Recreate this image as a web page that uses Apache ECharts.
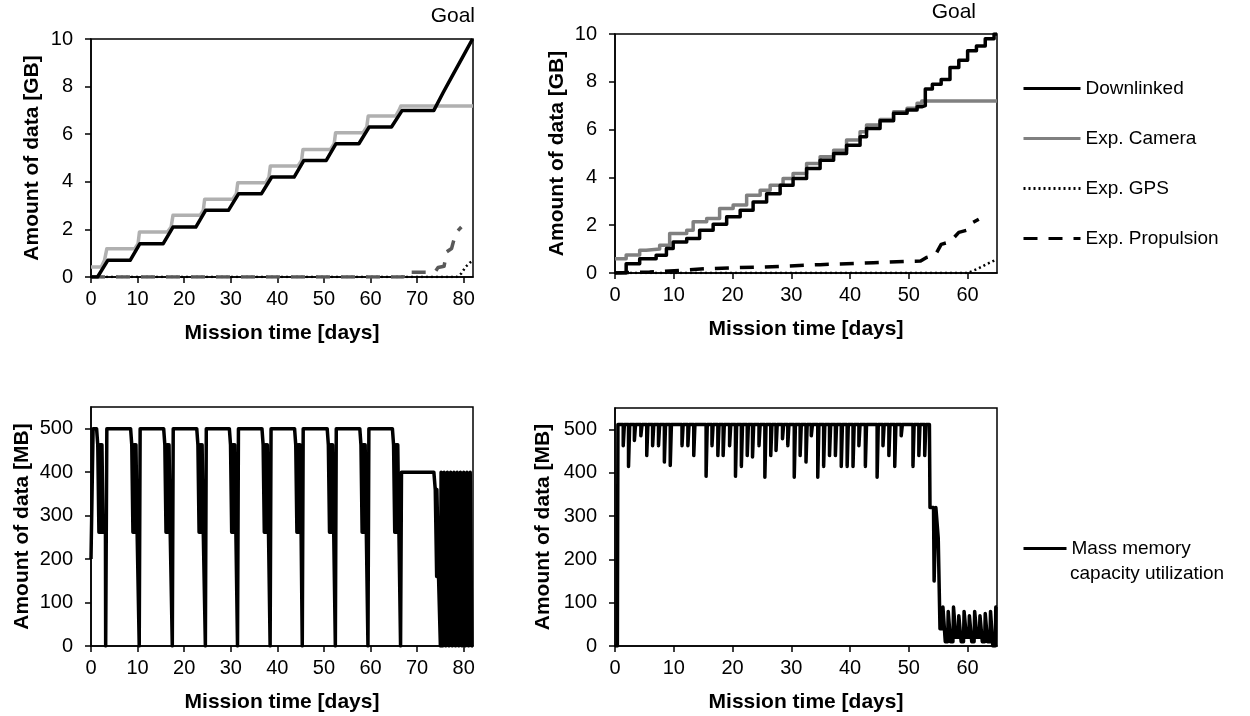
<!DOCTYPE html>
<html><head><meta charset="utf-8">
<script src="https://cdn.jsdelivr.net/npm/echarts@6/dist/echarts.min.js"></script>
<style>html,body{margin:0;padding:0;background:#fff}#c{width:1250px;height:716px}</style>
</head><body><div id="c"></div>
<script>
// ---------- labels & ticks ----------
const topLegendNames = ['Downlinked', 'Exp. Camera', 'Exp. GPS', 'Exp. Propulsion'];
const memName = 'Mass memory capacity utilization';
const memLine1 = 'Mass memory';
const memLine2 = 'capacity utilization';
const xTitle = 'Mission time [days]';
const yTitleGB = 'Amount of data [GB]';
const yTitleMB = 'Amount of data [MB]';
const goalText = 'Goal';
const xTicksLeft = [0, 10, 20, 30, 40, 50, 60, 70, 80];
const xTicksRight = [0, 10, 20, 30, 40, 50, 60];
const yTicksGB = [0, 2, 4, 6, 8, 10];
const yTicksMB = [0, 100, 200, 300, 400, 500];
const xMaxLeft = 82, xMaxRight = 65, yMaxGB = 10, yMaxMB = 550;

// ---------- top-left (x: days, y: GB) ----------
const tlDown = [[0,0],[1.4,0],[3.6,0.7],[8.4,0.7],[10.5,1.4],[15.5,1.4],[17.6,2.1],[22.5,2.1],[24.6,2.8],[29.5,2.8],[31.7,3.5],[36.6,3.5],[38.8,4.2],[43.6,4.2],[45.7,4.9],[50.5,4.9],[52.6,5.6],[57.5,5.6],[59.7,6.3],[64.5,6.3],[66.8,7.0],[73.6,7.0],[75.6,7.75],[77.7,8.5],[79.8,9.25],[81.9,10.0]];
const tlCam = [[0,0.42],[2.2,0.42],[2.9,0.7],[3.3,0.7],[3.4,1.19],[9.4,1.19],[10.1,1.4],[10.3,1.4],[10.4,1.89],[16.4,1.89],[17.2,2.1],[17.5,2.1],[17.6,2.59],[23.4,2.59],[24.1,2.8],[24.3,2.8],[24.4,3.27],[30.4,3.27],[31.2,3.5],[31.4,3.5],[31.5,3.96],[37.5,3.96],[38.2,4.2],[38.4,4.2],[38.5,4.66],[44.4,4.66],[45.2,4.9],[45.4,4.9],[45.5,5.36],[51.4,5.36],[52.2,5.6],[52.4,5.6],[52.5,6.06],[58.4,6.06],[59.2,6.3],[59.4,6.3],[59.5,6.76],[65.4,6.76],[66.1,7.0],[66.4,7.0],[66.5,7.18],[82,7.18]];
const tlGps = [[0,0],[78.5,0],[79.5,0.15],[80.4,0.42],[81.3,0.6],[82,0.68]];
const tlProp = [[0,0],[67,0],[67.1,0.2],[73.8,0.2],[74.5,0.4],[75.8,0.45],[76.3,1.05],[77.4,1.2],[78.3,1.85],[79.5,2.1]];

// ---------- top-right ----------
const trDown = [[0,0],[1.9,0.39],[4.2,0.6],[7,0.74],[8.75,1.02],[9.9,1.3],[12.2,1.44],[14.4,1.79],[16.7,2.04],[19,2.35],[21.3,2.63],[23.5,2.97],[25.8,3.32],[28.1,3.67],[30.3,3.95],[32.6,4.37],[34.9,4.72],[37.2,5.0],[39.4,5.35],[41.7,5.7],[42.8,6.05],[45.1,6.37],[47.4,6.68],[49.7,6.82],[51.4,6.96],[52.3,7.0],[52.8,7.7],[54,7.9],[55.5,8.1],[57,8.6],[58.5,8.9],[60,9.3],[61.5,9.5],[63,9.8],[64.5,10],[65,10]];
const trCam = [[0,0.6],[1.9,0.75],[4.2,0.95],[5.3,1.0],[7.6,1.16],[9.3,1.65],[12.2,1.79],[13.3,2.14],[15.6,2.28],[17.8,2.7],[20.1,2.84],[22.4,3.25],[24.7,3.46],[26.4,3.67],[28.6,3.95],[30.3,4.16],[32.6,4.58],[34.9,4.86],[37.2,5.14],[39.4,5.56],[41.7,5.91],[42.8,6.19],[45.1,6.42],[47.4,6.75],[49.7,6.89],[51.4,7.1],[52.2,7.2],[65,7.2]];
const trGps = [[0,0],[60,0],[61.9,0.2],[63.4,0.39],[65,0.57]];
const trProp = [[0,0],[5.9,0.04],[11,0.11],[15.6,0.18],[20.1,0.22],[25.2,0.25],[29.2,0.29],[34.9,0.35],[39.4,0.39],[44,0.43],[49.7,0.49],[52,0.5],[53,0.65],[54.5,0.75],[55.5,1.2],[57,1.3],[58.5,1.7],[60,1.8],[60.8,2.1],[61.9,2.25]];

// ---------- bottom-left (MB) ----------
const blMem = [[0,200],[0.4,200],[0.45,500],[1.2,500],[1.45,463],[1.7,262],[1.75,463],[2.0,262],[2.05,463],[2.3,262],[2.35,463],[2.6,262],[3.1,262],[3.15,0],[3.35,0],[3.4,500],
[8.5,500],[8.75,463],[9.0,262],[9.05,463],[9.3,262],[9.35,463],[9.6,262],[9.65,463],[9.9,262],[10.3,262],[10.35,0],[10.5,0],[10.55,500],
[15.6,500],[15.85,463],[16.1,262],[16.15,463],[16.4,262],[16.45,463],[16.7,262],[16.75,463],[17.0,262],[17.4,262],[17.45,0],[17.6,0],[17.65,500],
[22.7,500],[22.95,463],[23.2,262],[23.25,463],[23.5,262],[23.55,463],[23.8,262],[23.85,463],[24.1,262],[24.5,262],[24.55,0],[24.7,0],[24.75,500],
[29.7,500],[29.95,463],[30.2,262],[30.25,463],[30.5,262],[30.55,463],[30.8,262],[30.85,463],[31.1,262],[31.4,262],[31.45,0],[31.6,0],[31.65,500],
[36.7,500],[36.95,463],[37.2,262],[37.25,463],[37.5,262],[37.55,463],[37.8,262],[37.85,463],[38.1,262],[38.4,262],[38.45,0],[38.6,0],[38.65,500],
[43.7,500],[43.95,463],[44.2,262],[44.25,463],[44.5,262],[44.55,463],[44.8,262],[44.85,463],[45.1,262],[45.3,262],[45.35,0],[45.5,0],[45.55,500],
[50.7,500],[50.95,463],[51.2,262],[51.25,463],[51.5,262],[51.55,463],[51.8,262],[51.85,463],[52.1,262],[52.4,262],[52.45,0],[52.6,0],[52.65,500],
[57.7,500],[57.95,463],[58.2,262],[58.25,463],[58.5,262],[58.55,463],[58.8,262],[58.85,463],[59.1,262],[59.4,262],[59.45,0],[59.6,0],[59.65,500],
[64.7,500],[64.95,463],[65.2,262],[65.25,463],[65.5,262],[65.55,463],[65.8,262],[65.85,463],[66.1,262],[66.4,262],[66.45,0],[66.6,0],[66.65,400],
[73.6,400],[73.9,360],[74.2,160],[74.25,360],[74.6,160],[74.9,160],[75.0,0],[75.15,400],[75.45,400],[75.5,0],[75.75,0],[75.8,400],[76.1,400],[76.15,0],[76.45,0],[76.5,400],[76.8,400],[76.85,0],[77.15,0],[77.2,400],[77.5,400],[77.55,0],[77.85,0],[77.9,400],[78.2,400],[78.25,0],[78.55,0],[78.6,400],[78.9,400],[78.95,0],[79.25,0],[79.3,400],[79.6,400],[79.65,0],[79.95,0],[80.0,400],[80.3,400],[80.35,0],[80.65,0],[80.7,400],[81.0,400],[81.05,0],[81.35,0],[81.4,400],[81.7,400],[81.75,0],[82,0]];

// ---------- bottom-right (MB) ----------
const brMem = [[0,0],[0.4,0],[0.5,512],
[1.4,512],[1.4,463],[1.6,463],[1.6,512],[2.3,512],[2.3,415],[2.5,415],[2.5,512],[3.3,512],[3.3,475],[3.5,475],[3.5,512],[4.4,512],[4.4,486],[4.6,486],[4.6,512],
[5.4,512],[5.4,440],[5.6,440],[5.6,512],[6.4,512],[6.4,463],[6.6,463],[6.6,512],[7.4,512],[7.4,463],[7.6,463],[7.6,512],[8.4,512],[8.4,425],[8.6,425],[8.6,512],
[9.4,512],[9.4,417],[9.6,417],[9.6,512],[11.4,512],[11.4,463],[11.6,463],[11.6,512],[12.4,512],[12.4,463],[12.6,463],[12.6,512],[13.4,512],[13.4,440],[13.6,440],[13.6,512],
[15.5,512],[15.5,392],[15.7,392],[15.7,512],[16.5,512],[16.5,463],[16.7,463],[16.7,512],[17.5,512],[17.5,440],[17.7,440],[17.7,512],[18.4,512],[18.4,440],[18.6,440],[18.6,512],
[19.5,512],[19.5,463],[19.7,463],[19.7,512],[20.5,512],[20.5,392],[20.7,392],[20.7,512],[21.5,512],[21.5,415],[21.7,415],[21.7,512],[22.5,512],[22.5,440],[22.7,440],[22.7,512],
[23.4,512],[23.4,437],[23.6,437],[23.6,512],[24.5,512],[24.5,463],[24.7,463],[24.7,512],[25.5,512],[25.5,390],[25.7,390],[25.7,512],[26.5,512],[26.5,440],[26.7,440],[26.7,512],
[27.4,512],[27.4,452],[27.6,452],[27.6,512],[28.5,512],[28.5,479],[28.7,479],[28.7,512],[29.4,512],[29.4,463],[29.6,463],[29.6,512],[30.5,512],[30.5,390],[30.7,390],[30.7,512],
[31.5,512],[31.5,440],[31.7,440],[31.7,512],[32.5,512],[32.5,425],[32.7,425],[32.7,512],[33.4,512],[33.4,486],[33.6,486],[33.6,512],[34.5,512],[34.5,390],[34.7,390],[34.7,512],
[35.5,512],[35.5,415],[35.7,415],[35.7,512],[36.5,512],[36.5,440],[36.7,440],[36.7,512],[37.5,512],[37.5,440],[37.7,440],[37.7,512],[38.5,512],[38.5,415],[38.7,415],[38.7,512],
[39.5,512],[39.5,415],[39.7,415],[39.7,512],[40.5,512],[40.5,415],[40.7,415],[40.7,512],[41.5,512],[41.5,463],[41.7,463],[41.7,512],[42.6,512],[42.6,415],[42.8,415],[42.8,512],
[44.6,512],[44.6,390],[44.8,390],[44.8,512],[45.6,512],[45.6,463],[45.8,463],[45.8,512],[46.6,512],[46.6,440],[46.8,440],[46.8,512],[47.6,512],[47.6,415],[47.8,415],[47.8,512],
[48.7,512],[48.7,486],[48.9,486],[48.9,512],[50.7,512],[50.7,415],[50.9,415],[50.9,512],[51.7,512],[51.7,440],[51.9,440],[51.9,512],[52.7,512],[52.7,440],[52.9,440],[52.9,512],
[53.5,512],[53.6,320],[54.2,320],[54.3,150],[54.5,150],[54.6,320],[55.0,250],[55.2,250],[55.3,40],[55.7,40],[55.8,90],[56.1,90],[56.2,10],[56.6,10],[56.7,80],[57.0,80],[57.1,10],[57.5,10],[57.6,90],[57.9,90],[58.0,20],[58.4,20],[58.5,70],[58.8,70],[58.9,10],[59.3,10],[59.4,80],[59.7,80],[59.8,20],[60.2,20],[60.3,70],[60.6,70],[60.7,10],[61.1,10],[61.2,80],[61.5,80],[61.6,20],[62.0,20],[62.1,70],[62.4,70],[62.5,10],[62.9,10],[63.0,75],[63.3,75],[63.4,10],[63.8,10],[63.9,80],[64.2,80],[64.3,0],[64.7,0],[64.8,90],[65,90]];

// ---------- chart ----------
const FONT = '"Liberation Sans", Arial, sans-serif';
const grids = [
  {left: 91, top: 39, width: 382, height: 238},
  {left: 615, top: 34, width: 382, height: 239},
  {left: 91, top: 407, width: 382, height: 239},
  {left: 615, top: 408, width: 382, height: 238}
].map(g => Object.assign(g, {show: true, borderColor: '#000', borderWidth: 1.5, backgroundColor: 'transparent'}));

function xAx(gi, max, ticks) {
  return {type: 'value', gridIndex: gi, min: 0, max: max,
    name: xTitle, nameLocation: 'middle', nameGap: 46,
    nameTextStyle: {fontWeight: 'bold', fontSize: 21, color: '#000', fontFamily: FONT},
    axisLine: {show: true, onZero: false, lineStyle: {color: '#000', width: 1.5}},
    axisTick: {show: true, length: 6, customValues: ticks, lineStyle: {color: '#000', width: 1.5}},
    axisLabel: {customValues: ticks, fontSize: 20, color: '#000', margin: 12, fontFamily: FONT},
    splitLine: {show: false}};
}
function yAx(gi, max, ticks, title, gap) {
  return {type: 'value', gridIndex: gi, min: 0, max: max,
    name: title, nameLocation: 'middle', nameGap: gap,
    nameTextStyle: {fontWeight: 'bold', fontSize: 21, color: '#000', fontFamily: FONT},
    axisLine: {show: true, lineStyle: {color: '#000', width: 1.5}},
    axisTick: {show: true, length: 6, customValues: ticks, lineStyle: {color: '#000', width: 1.5}},
    axisLabel: {customValues: ticks, fontSize: 20, color: '#000', margin: 18, fontFamily: FONT},
    splitLine: {show: false}};
}
function line(name, gi, data, color, width, type, step) {
  return {name: name, type: 'line', xAxisIndex: gi, yAxisIndex: gi, data: data,
    showSymbol: false, symbol: 'none', silent: true, step: step || false,
    lineStyle: {color: color, width: width, type: type || 'solid', cap: 'butt', join: 'round'},
    itemStyle: {color: color}};
}
const DASH = [14, 11];
const DOT = [2, 3];

const option = {
  animation: false,
  backgroundColor: '#fff',
  textStyle: {fontFamily: FONT},
  grid: grids,
  xAxis: [xAx(0, xMaxLeft, xTicksLeft), xAx(1, xMaxRight, xTicksRight), xAx(2, xMaxLeft, xTicksLeft), xAx(3, xMaxRight, xTicksRight)],
  yAxis: [yAx(0, yMaxGB, yTicksGB, yTitleGB, 48), yAx(1, yMaxGB, yTicksGB, yTitleGB, 47), yAx(2, yMaxMB, yTicksMB, yTitleMB, 58), yAx(3, yMaxMB, yTicksMB, yTitleMB, 61)],
  legend: [{
    data: topLegendNames, orient: 'vertical', left: 1022, top: 79, padding: 0,
    itemWidth: 57, itemHeight: 14, itemGap: 31,
    itemStyle: {opacity: 0},
    lineStyle: {width: 3},
    textStyle: {fontSize: 19, color: '#000', fontFamily: FONT},
    selectedMode: false
  }, {
    data: [memName], orient: 'vertical', left: 1022, top: 539, padding: 0,
    itemWidth: 43, itemHeight: 14,
    itemStyle: {opacity: 0},
    lineStyle: {width: 3},
    formatter: () => memLine1,
    textStyle: {fontSize: 19, color: '#000', fontFamily: FONT},
    selectedMode: false
  }],
  graphic: [
    {type: 'text', left: 1070, top: 564, style: {text: memLine2, fontSize: 19, fill: '#000', fontFamily: FONT}},
    {type: 'text', right: 1250 - 475, top: 6, style: {text: goalText, fontSize: 21, fill: '#000', fontFamily: FONT}},
    {type: 'text', right: 1250 - 976, top: 2, style: {text: goalText, fontSize: 21, fill: '#000', fontFamily: FONT}}
  ],
  series: [
    // top-right first so the legend picks its styles
    line('Exp. GPS', 1, trGps, '#000', 2.5, DOT),
    line('Exp. Propulsion', 1, trProp, '#000', 3.5, DASH),
    line('Exp. Camera', 1, trCam, '#808080', 3.5, 'solid', 'end'),
    line('Downlinked', 1, trDown, '#000', 3.5, 'solid', 'end'),
    line('Exp. GPS', 0, tlGps, '#000', 2.5, DOT),
    line('Exp. Propulsion', 0, tlProp, '#595959', 3.5, DASH),
    line('Exp. Camera', 0, tlCam, '#b0b0b0', 3.5),
    line('Downlinked', 0, tlDown, '#000', 3.5),
    line(memName, 2, blMem, '#000', 3.5),
    line(memName, 3, brMem, '#000', 3.5)
  ]
};
const chart = echarts.init(document.getElementById('c'), null, {renderer: 'canvas'});
chart.setOption(option);
</script>
</body></html>
